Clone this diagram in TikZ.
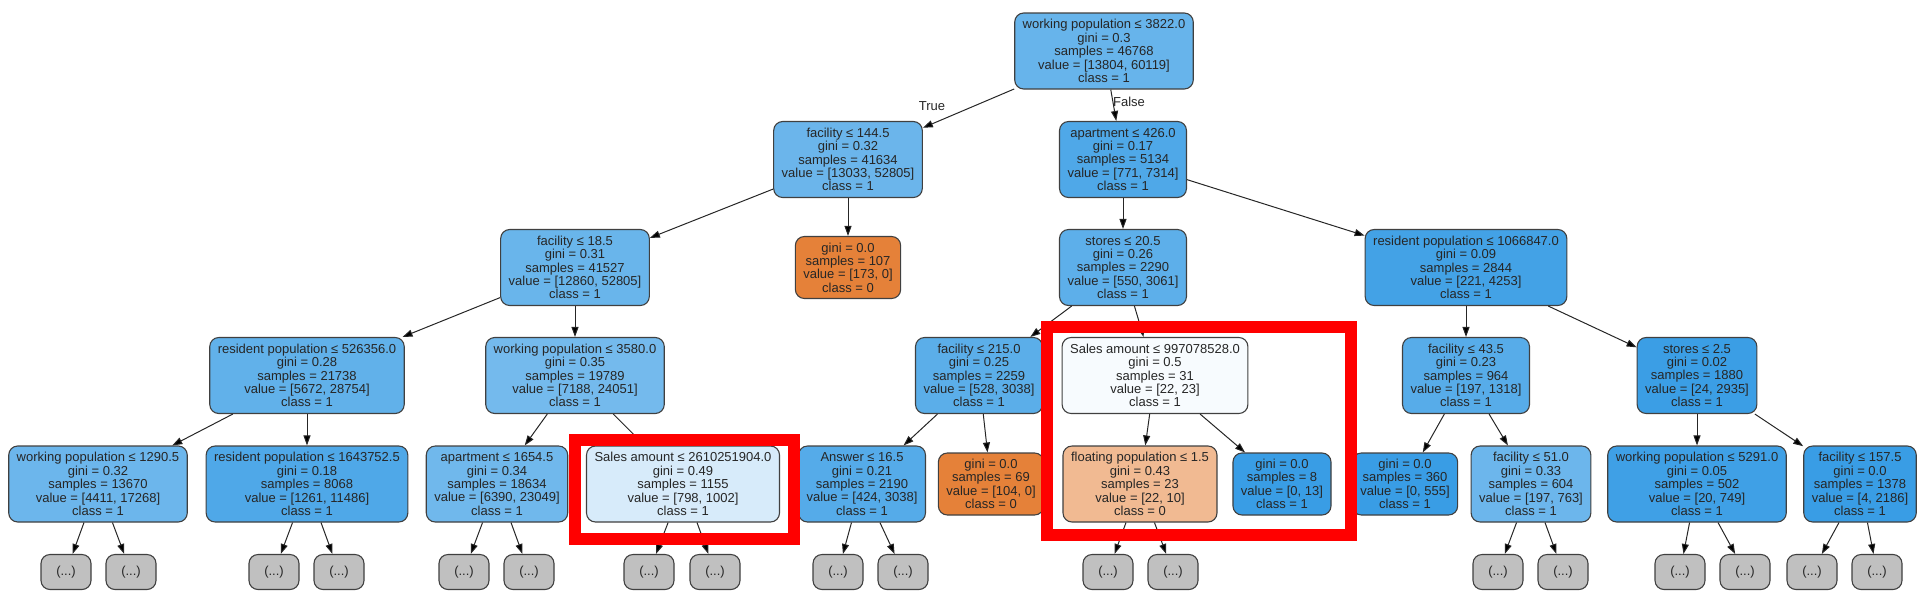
\documentclass[tikz,border=0pt]{standalone}
\usepackage{fontspec}
\setmainfont{Liberation Sans}
\usetikzlibrary{arrows.meta,positioning}
\definecolor{clsone}{RGB}{57,157,229}
\definecolor{clszero}{RGB}{229,129,57}
\definecolor{dotgray}{RGB}{192,192,192}
\tikzset{
  treefont/.style={font=\fontsize{13}{13.4}\selectfont, text=black!85},
  splitnode/.style={treefont, draw=black!75, line width=1.1pt, rounded corners=9pt,
    align=center, inner xsep=8pt, minimum height=76pt},
  leafnode/.style={splitnode, minimum height=62pt},
  cls1/.style={fill=clsone!#1!white},
  cls0/.style={fill=clszero!#1!white},
  morenode/.style={splitnode, fill=dotgray, minimum width=50pt, minimum height=35pt},
  hilite/.style={draw=red, line width=12pt}}

\begin{document}
\begin{tikzpicture}[x=1pt, y=-1pt]
  \useasboundingbox (0,0) rectangle (1920,614);
  % level 0 and 1
  \node[splitnode, cls1=77] (n_0) at (1104,51) {working population ≤ 3822.0\\gini = 0.3\\samples = 46768\\value = [13804, 60119]\\class = 1};
  \node[splitnode, cls1=75] (n_1) at (848,159.5) {facility ≤ 144.5\\gini = 0.32\\samples = 41634\\value = [13033, 52805]\\class = 1};
  \node[splitnode, cls1=89] (n_2) at (1123,159.5) {apartment ≤ 426.0\\gini = 0.17\\samples = 5134\\value = [771, 7314]\\class = 1};
  % level 2
  \node[splitnode, cls1=76] (n_3) at (575,267.5) {facility ≤ 18.5\\gini = 0.31\\samples = 41527\\value = [12860, 52805]\\class = 1};
  \node[leafnode, cls0=100] (n_4) at (848,267.5) {gini = 0.0\\samples = 107\\value = [173, 0]\\class = 0};
  \node[splitnode, cls1=82] (n_5) at (1123,267.5) {stores ≤ 20.5\\gini = 0.26\\samples = 2290\\value = [550, 3061]\\class = 1};
  \node[splitnode, cls1=95] (n_6) at (1466,267.5) {resident population ≤ 1066847.0\\gini = 0.09\\samples = 2844\\value = [221, 4253]\\class = 1};
  % level 3
  \node[splitnode, cls1=80] (n_7) at (307,375.5) {resident population ≤ 526356.0\\gini = 0.28\\samples = 21738\\value = [5672, 28754]\\class = 1};
  \node[splitnode, cls1=70] (n_8) at (575,375.5) {working population ≤ 3580.0\\gini = 0.35\\samples = 19789\\value = [7188, 24051]\\class = 1};
  \node[splitnode, cls1=83] (n_9) at (979,375.5) {facility ≤ 215.0\\gini = 0.25\\samples = 2259\\value = [528, 3038]\\class = 1};
  \node[splitnode, cls1=4] (n_10) at (1155,375.5) {Sales amount ≤ 997078528.0\\gini = 0.5\\samples = 31\\value = [22, 23]\\class = 1};
  \node[splitnode, cls1=85] (n_11) at (1466,375.5) {facility ≤ 43.5\\gini = 0.23\\samples = 964\\value = [197, 1318]\\class = 1};
  \node[splitnode, cls1=99] (n_12) at (1697,375.5) {stores ≤ 2.5\\gini = 0.02\\samples = 1880\\value = [24, 2935]\\class = 1};
  % level 4
  \node[splitnode, cls1=74] (n_13) at (98,484) {working population ≤ 1290.5\\gini = 0.32\\samples = 13670\\value = [4411, 17268]\\class = 1};
  \node[splitnode, cls1=89] (n_14) at (307,484) {resident population ≤ 1643752.5\\gini = 0.18\\samples = 8068\\value = [1261, 11486]\\class = 1};
  \node[splitnode, cls1=72] (n_15) at (497,484) {apartment ≤ 1654.5\\gini = 0.34\\samples = 18634\\value = [6390, 23049]\\class = 1};
  \node[splitnode, cls1=20] (n_16) at (683,484) {Sales amount ≤ 2610251904.0\\gini = 0.49\\samples = 1155\\value = [798, 1002]\\class = 1};
  \node[splitnode, cls1=86] (n_17) at (862,484) {Answer ≤ 16.5\\gini = 0.21\\samples = 2190\\value = [424, 3038]\\class = 1};
  \node[leafnode, cls0=100] (n_18) at (991,484) {gini = 0.0\\samples = 69\\value = [104, 0]\\class = 0};
  \node[splitnode, cls0=55] (n_19) at (1140,484) {floating population ≤ 1.5\\gini = 0.43\\samples = 23\\value = [22, 10]\\class = 0};
  \node[leafnode, cls1=100] (n_20) at (1282,484) {gini = 0.0\\samples = 8\\value = [0, 13]\\class = 1};
  \node[leafnode, cls1=100] (n_21) at (1405,484) {gini = 0.0\\samples = 360\\value = [0, 555]\\class = 1};
  \node[splitnode, cls1=74] (n_22) at (1531,484) {facility ≤ 51.0\\gini = 0.33\\samples = 604\\value = [197, 763]\\class = 1};
  \node[splitnode, cls1=97] (n_23) at (1697,484) {working population ≤ 5291.0\\gini = 0.05\\samples = 502\\value = [20, 749]\\class = 1};
  \node[splitnode, cls1=100] (n_24) at (1860,484) {facility ≤ 157.5\\gini = 0.0\\samples = 1378\\value = [4, 2186]\\class = 1};
  % truncated subtrees
  \foreach \name/\xa/\xb in {13/66/131, 14/274/339, 15/464/529, 16/649/715, 17/838/903,
                             19/1108/1173, 22/1498/1563, 23/1680/1745, 24/1812/1877} {
    \node[morenode] (m_\name a) at (\xa,572) {(...)};
    \node[morenode] (m_\name b) at (\xb,572) {(...)};
    \path[-{Triangle[length=10pt,width=7pt]}, draw=black!85, line width=1pt]
      (n_\name) edge (m_\name a)
      (n_\name) edge (m_\name b);
  }
  \node[treefont] (lbl_t) at (932,106) {True};
  \node[treefont] (lbl_f) at (1129,102) {False};
  \path[-{Triangle[length=10pt,width=7pt]}, draw=black!85, line width=1pt]
    (n_0) edge (n_1)
    (n_0) edge (n_2)
    (n_1) edge (n_3)
    (n_1) edge (n_4)
    (n_2) edge (n_5)
    (n_2) edge (n_6)
    (n_3) edge (n_7)
    (n_3) edge (n_8)
    (n_5) edge (n_9)
    (n_5) edge (n_10)
    (n_6) edge (n_11)
    (n_6) edge (n_12)
    (n_7) edge (n_13)
    (n_7) edge (n_14)
    (n_8) edge (n_15)
    (n_8) edge (n_16)
    (n_9) edge (n_17)
    (n_9) edge (n_18)
    (n_10) edge (n_19)
    (n_10) edge (n_20)
    (n_11) edge (n_21)
    (n_11) edge (n_22)
    (n_12) edge (n_23)
    (n_12) edge (n_24);
  % highlight frames
  \draw[hilite] (575,440) rectangle (794,539);
  \draw[hilite] (1047,327) rectangle (1351,535);
\end{tikzpicture}
\end{document}
